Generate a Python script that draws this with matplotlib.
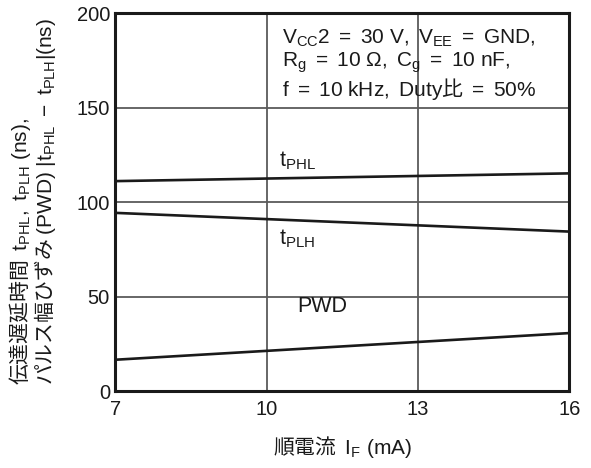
import matplotlib
matplotlib.use("Agg")
import matplotlib.pyplot as plt

# Data
current_mA = [7, 16]
t_phl = [111.3, 115.4]
t_plh = [94.5, 84.6]
pwd = [16.8, 30.9]
x_ticks = [7, 10, 13, 16]
y_ticks = [0, 50, 100, 150, 200]

plt.rcParams['font.family'] = ['Liberation Sans']
plt.rcParams['mathtext.fontset'] = 'custom'
plt.rcParams['mathtext.rm'] = 'Liberation Sans'
plt.rcParams['mathtext.it'] = 'Liberation Sans:italic'
plt.rcParams['mathtext.bf'] = 'Liberation Sans:bold'
plt.rcParams['mathtext.sf'] = 'Liberation Sans'

CJK = 'Noto Sans CJK JP'
FS = 15
TC = '#1a1a1a'

fig = plt.figure(figsize=(5.91, 4.68), dpi=100)
ax = fig.add_axes([0.1954, 0.1635, 0.7678, 0.8077])

ax.plot(current_mA, t_phl, color=TC, lw=1.9, solid_capstyle='butt')
ax.plot(current_mA, t_plh, color=TC, lw=1.9, solid_capstyle='butt')
ax.plot(current_mA, pwd, color=TC, lw=1.9, solid_capstyle='butt')

ax.set_xlim(7, 16)
ax.set_ylim(0, 200)
ax.set_xticks(x_ticks)
ax.set_yticks(y_ticks)
ax.set_xticklabels([str(v) for v in x_ticks], fontsize=14.5)
ax.set_yticklabels([str(v) for v in y_ticks], fontsize=14.5)
ax.tick_params(axis='both', length=0, colors=TC)
ax.tick_params(axis='x', pad=6)
ax.tick_params(axis='y', pad=4)
ax.grid(True, color='#5a5a5a', lw=1.3)
ax.set_axisbelow(True)
for s in ax.spines.values():
    s.set_linewidth(2.2)
    s.set_color(TC)

ax.text(10.25, 116.0, r'$\mathrm{t_{PHL}}$', fontsize=15.5, ha='left', va='bottom', color=TC)
ax.text(10.25, 81, r'$\mathrm{t_{PLH}}$', fontsize=15.5, ha='left', va='center', color=TC)
ax.text(10.6, 44.8, 'PWD', fontsize=15.5, ha='left', va='center', color=TC)

ann = (r'$\mathrm{V_{CC}2\ =\ 30\ V,\ V_{EE}\ =\ GND,}$' + '\n' +
       r'$\mathrm{R_g\ =\ 10\ Ω,\ C_g\ =\ 10\ nF,}$' + '\n' +
       r'$\mathrm{f\ =\ 10\ kHz,\ Duty}$比$\mathrm{\ =\ 50\%}$')
ax.text(10.3, 193.0, ann, fontsize=FS, family=CJK, ha='left', va='top',
        linespacing=1.05, color=TC)

ax.text(0.5, -0.147, r'順電流  $\mathrm{I_F\ (mA)}$', transform=ax.transAxes,
        fontsize=FS, family=CJK, ha='center', va='center', color=TC)

ylab = (r'伝達遅延時間  $\mathrm{t_{PHL},\ t_{PLH}\ (ns),}$' + '\n' +
        r'パルス幅ひずみ $\mathrm{(PWD)\ |t_{PHL}\ -\ t_{PLH}|(ns)}$')
fig.text(0.055, 0.57, ylab, rotation=90, fontsize=FS, family=CJK,
         ha='center', va='center', multialignment='left', linespacing=0.95,
         color=TC)

fig.savefig('out.png', dpi=100)
